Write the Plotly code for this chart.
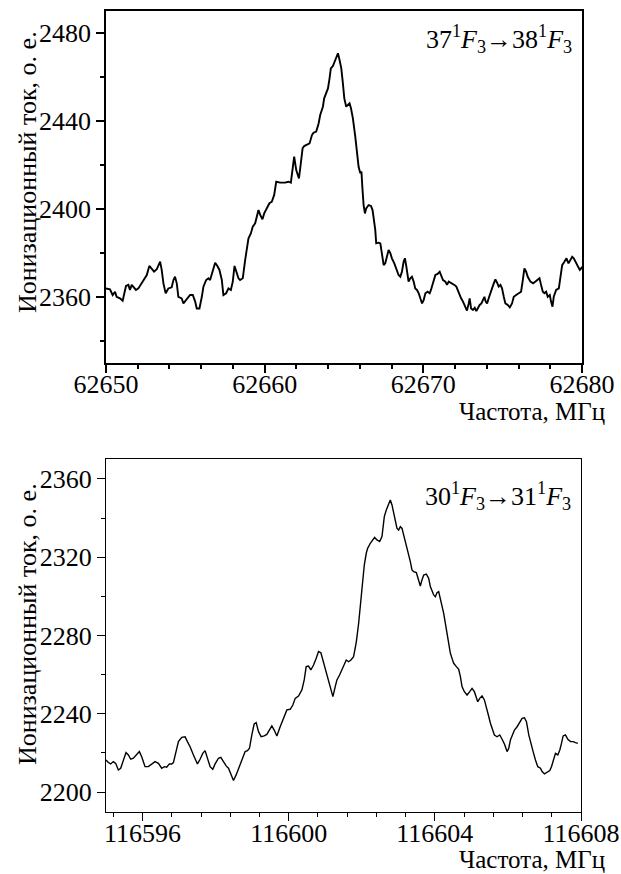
import plotly.graph_objects as go

# ---------- top panel data (37 1F3 -> 38 1F3) ----------
top_freq_offset = [
    0.00, 0.25, 0.42, 0.57, 0.67, 0.88, 1.05, 1.14, 1.26, 1.41, 1.51, 1.62, 1.72, 1.89, 2.04,
    2.25, 2.46, 2.57, 2.73, 2.88, 3.03, 3.20, 3.30, 3.41, 3.51, 3.62, 3.76, 3.93, 4.14, 4.25,
    4.35, 4.46, 4.56, 4.77, 4.88, 5.13, 5.30, 5.47, 5.62, 5.72, 5.89, 6.04, 6.14, 6.31, 6.46,
    6.56, 6.73, 6.88, 7.02, 7.15, 7.30, 7.40, 7.57, 7.72, 7.87, 7.99, 8.10, 8.24, 8.35, 8.45,
    8.62, 8.77, 8.87, 8.98, 9.13, 9.25, 9.40, 9.51, 9.61, 9.72, 9.86, 9.97, 10.14, 10.30, 10.45,
    10.60, 10.73, 10.98, 11.29, 11.50, 11.65, 11.78, 11.86, 11.99, 12.16, 12.24, 12.39, 12.49,
    12.66, 12.83, 12.98, 13.08, 13.25, 13.40, 13.50, 13.67, 13.75, 13.88, 13.99, 14.09, 14.17,
    14.30, 14.45, 14.55, 14.62, 14.72, 14.83, 14.93, 15.02, 15.14, 15.23, 15.35, 15.44, 15.56,
    15.71, 15.82, 15.92, 16.03, 16.10, 16.16, 16.235, 16.32, 16.40, 16.55, 16.70, 16.80, 16.87,
    16.97, 17.03, 17.18, 17.29, 17.39, 17.50, 17.60, 17.71, 17.81, 17.92, 18.02, 18.17, 18.30,
    18.44, 18.55, 18.65, 18.76, 18.84, 18.93, 19.01, 19.07, 19.18, 19.28, 19.39, 19.49, 19.60,
    19.71, 19.81, 19.92, 20.02, 20.13, 20.27, 20.40, 20.48, 20.61, 20.76, 20.90, 21.03, 21.11,
    21.24, 21.39, 21.49, 21.60, 21.81, 21.96, 22.08, 22.23, 22.38, 22.50, 22.65, 22.75, 22.86,
    22.92, 23.01, 23.13, 23.24, 23.34, 23.43, 23.55, 23.66, 23.76, 23.85, 23.93, 24.02, 24.12,
    24.23, 24.33, 24.44, 24.54, 24.65, 24.75, 24.86, 24.96, 25.07, 25.17, 25.32, 25.45, 25.59,
    25.70, 25.85, 26.01, 26.16, 26.27, 26.37, 26.48, 26.58, 26.75, 26.92, 27.07, 27.21, 27.32,
    27.42, 27.53, 27.63, 27.74, 27.84, 27.97, 28.05, 28.14, 28.22, 28.37, 28.54, 28.64, 28.75,
    28.90, 29.02, 29.15, 29.27, 29.38, 29.48, 29.63, 29.74, 29.86, 29.95, 30.00,
]
top_signal = [
    2363.9, 2363.5, 2360.9, 2362.4, 2360.1, 2359.4, 2358.3, 2361.7, 2365.0, 2365.5, 2363.2,
    2365.5, 2364.7, 2363.2, 2363.9, 2366.2, 2368.5, 2370.0, 2374.1, 2373.0, 2371.5, 2372.6,
    2374.5, 2376.1, 2372.3, 2366.2, 2361.7, 2363.9, 2364.4, 2367.7, 2369.2, 2366.2, 2360.1,
    2359.4, 2357.1, 2359.4, 2360.9, 2360.9, 2357.9, 2354.8, 2354.8, 2360.1, 2364.7, 2367.7,
    2368.5, 2367.7, 2372.3, 2375.6, 2374.1, 2372.3, 2367.7, 2360.9, 2361.7, 2363.9, 2363.2,
    2367.0, 2374.1, 2370.8, 2368.5, 2367.7, 2368.5, 2376.8, 2381.4, 2386.7, 2388.9, 2392.0,
    2393.5, 2396.5, 2399.5, 2397.3, 2395.3, 2398.0, 2400.3, 2402.6, 2403.3, 2406.4, 2412.4,
    2412.0, 2412.0, 2412.4, 2412.0, 2418.5, 2423.8, 2417.7, 2413.9, 2418.5, 2427.6, 2428.6,
    2429.1, 2429.8, 2433.6, 2434.7, 2435.2, 2438.9, 2442.7, 2446.5, 2450.3, 2452.6, 2454.8,
    2459.4, 2463.9, 2465.0, 2467.7, 2469.5, 2470.8, 2467.7, 2463.9, 2457.1, 2450.3, 2446.5,
    2447.3, 2448.0, 2445.8, 2441.2, 2432.9, 2423.8, 2419.2, 2416.2, 2417.0, 2409.5, 2401.8,
    2398.0, 2400.3, 2401.8, 2401.4, 2399.5, 2396.5, 2390.5, 2384.4, 2384.7, 2384.4, 2379.1,
    2374.5, 2375.3, 2378.3, 2381.4, 2379.9, 2377.6, 2375.3, 2373.0, 2370.0, 2369.2, 2371.5,
    2376.1, 2377.6, 2373.8, 2369.2, 2367.0, 2368.5, 2369.2, 2367.0, 2363.9, 2363.2, 2361.7,
    2359.4, 2357.1, 2358.6, 2361.7, 2362.4, 2361.7, 2363.2, 2366.2, 2370.0, 2370.5, 2371.5,
    2370.0, 2367.7, 2367.0, 2365.5, 2367.0, 2366.2, 2365.5, 2364.7, 2361.7, 2359.4, 2357.9,
    2355.6, 2353.8, 2357.1, 2359.4, 2354.8, 2354.1, 2355.1, 2353.6, 2354.8, 2356.4, 2357.1,
    2358.6, 2360.1, 2357.9, 2357.1, 2359.4, 2362.4, 2363.9, 2366.2, 2368.0, 2366.5, 2364.7,
    2365.5, 2363.9, 2360.1, 2357.1, 2356.4, 2355.3, 2357.1, 2360.1, 2360.9, 2361.7, 2362.4,
    2367.7, 2373.0, 2371.5, 2369.2, 2367.0, 2366.2, 2367.0, 2367.7, 2368.5, 2365.5, 2362.4,
    2361.7, 2362.4, 2360.1, 2360.9, 2357.9, 2355.6, 2360.1, 2363.2, 2363.9, 2368.5, 2374.5,
    2376.1, 2377.6, 2375.3, 2376.8, 2378.3, 2377.6, 2375.3, 2373.8, 2372.3, 2373.0, 2373.8,
]
top_base = 62650.0
top_freq = [top_base + v for v in top_freq_offset]

# ---------- bottom panel data (30 1F3 -> 31 1F3) ----------
bot_freq_offset = [
    0.000, 0.064, 0.128, 0.201, 0.265, 0.338, 0.402, 0.475, 0.548, 0.612, 0.676, 0.749, 0.822,
    0.913, 0.977, 1.068, 1.160, 1.251, 1.342, 1.434, 1.525, 1.598, 1.662, 1.735, 1.799, 1.845,
    1.918, 1.982, 2.073, 2.164, 2.228, 2.301, 2.393, 2.502, 2.575, 2.648, 2.712, 2.776, 2.849,
    2.922, 2.986, 3.078, 3.142, 3.215, 3.288, 3.352, 3.416, 3.489, 3.562, 3.653, 3.744, 3.808,
    3.872, 3.927, 3.991, 4.055, 4.110, 4.174, 4.247, 4.329, 4.402, 4.493, 4.539, 4.603, 4.676,
    4.767, 4.858, 4.950, 5.041, 5.114, 5.178, 5.269, 5.361, 5.425, 5.479, 5.543, 5.607, 5.680,
    5.753, 5.817, 5.881, 5.936, 6.000, 6.064, 6.137, 6.210, 6.274, 6.320, 6.393, 6.457, 6.521,
    6.575, 6.639, 6.703, 6.776, 6.849, 6.913, 6.977, 7.032, 7.069, 7.123, 7.160, 7.233, 7.297,
    7.352, 7.416, 7.489, 7.553, 7.580, 7.617, 7.671, 7.735, 7.781, 7.827, 7.872, 7.918, 7.964,
    8.009, 8.055, 8.101, 8.146, 8.192, 8.237, 8.283, 8.329, 8.374, 8.420, 8.493, 8.557, 8.603,
    8.648, 8.694, 8.767, 8.831, 8.877, 8.922, 8.968, 9.014, 9.059, 9.105, 9.151, 9.196, 9.242,
    9.288, 9.379, 9.425, 9.470, 9.516, 9.589, 9.653, 9.699, 9.744, 9.808, 9.881, 9.954, 10.018,
    10.082, 10.137, 10.174, 10.228, 10.292, 10.356, 10.411, 10.475, 10.521, 10.566, 10.630,
    10.703, 10.776, 10.840, 10.904, 10.977, 11.023, 11.069, 11.114, 11.178, 11.251, 11.324,
    11.388, 11.452, 11.507, 11.571, 11.635, 11.690, 11.753, 11.817, 11.890, 11.936, 12.000,
    12.073, 12.146, 12.192, 12.256, 12.301, 12.365, 12.420, 12.466, 12.511, 12.575, 12.639,
    12.712, 12.785, 12.849, 12.913,
]
bot_signal = [
    2216.4, 2215.1, 2214.4, 2215.6, 2214.7, 2211.3, 2212.2, 2216.4, 2220.2, 2219.0, 2216.8,
    2217.3, 2219.0, 2220.7, 2218.1, 2213.0, 2213.0, 2214.4, 2215.6, 2214.7, 2212.2, 2213.0,
    2212.7, 2214.4, 2214.4, 2215.1, 2221.5, 2225.8, 2228.0, 2228.3, 2225.8, 2223.2, 2219.0,
    2214.4, 2216.8, 2219.8, 2221.2, 2216.8, 2213.0, 2211.7, 2214.4, 2217.3, 2217.8, 2215.6,
    2213.4, 2212.2, 2209.6, 2205.9, 2208.8, 2213.0, 2218.1, 2220.7, 2221.2, 2222.4, 2229.2,
    2234.8, 2235.5, 2230.9, 2228.3, 2228.7, 2229.5, 2232.6, 2233.8, 2231.7, 2228.7, 2233.4,
    2237.7, 2242.0, 2242.3, 2244.5, 2247.9, 2249.1, 2252.2, 2257.3, 2264.1, 2264.4, 2262.4,
    2264.9, 2268.4, 2271.8, 2271.2, 2267.5, 2263.2, 2259.8, 2254.7, 2248.8, 2253.9, 2257.3,
    2259.8, 2262.4, 2265.8, 2267.5, 2266.6, 2267.5, 2269.2, 2276.5, 2286.0, 2298.1, 2308.4,
    2316.0, 2322.0, 2324.5, 2327.1, 2328.8, 2330.1, 2328.8, 2328.0, 2330.5, 2333.9, 2340.7,
    2344.1, 2346.7, 2349.2, 2346.7, 2342.4, 2338.1, 2334.7, 2333.9, 2335.6, 2334.7, 2331.3,
    2328.8, 2325.4, 2322.0, 2317.7, 2313.5, 2312.6, 2312.1, 2308.4, 2305.3, 2308.4, 2310.9,
    2311.4, 2309.2, 2305.0, 2302.4, 2300.7, 2299.8, 2301.9, 2302.4, 2299.0, 2295.6, 2291.3,
    2286.2, 2275.2, 2270.9, 2268.3, 2265.8, 2264.1, 2262.7, 2259.0, 2253.9, 2251.3, 2249.6,
    2251.3, 2253.0, 2251.3, 2247.9, 2246.2, 2247.9, 2249.1, 2247.1, 2243.7, 2238.6, 2235.2,
    2232.6, 2229.2, 2228.3, 2229.2, 2227.0, 2224.6, 2220.7, 2222.4, 2226.6, 2229.2, 2231.7,
    2233.4, 2236.0, 2237.7, 2238.0, 2236.0, 2229.2, 2224.1, 2220.7, 2216.4, 2213.0, 2212.2,
    2210.5, 2209.3, 2210.0, 2211.0, 2213.0, 2217.3, 2219.8, 2219.0, 2221.5, 2224.9, 2228.7,
    2229.2, 2227.0, 2225.8, 2225.8, 2225.3, 2224.9,
]
bot_base = 116595.0
bot_freq = [bot_base + v for v in bot_freq_offset]

x_title = "Частота, МГц"
y_title = "Ионизационный ток, о. е."
top_label = "37<sup>1</sup><i>F</i><sub>3</sub>→38<sup>1</sup><i>F</i><sub>3</sub>"
bot_label = "30<sup>1</sup><i>F</i><sub>3</sub>→31<sup>1</sup><i>F</i><sub>3</sub>"

W, H = 621, 874
FONT = "Liberation Serif"

fig = go.Figure()
fig.add_trace(go.Scatter(x=top_freq, y=top_signal, mode="lines",
                         line=dict(color="black", width=1.9), xaxis="x", yaxis="y",
                         showlegend=False, hoverinfo="skip"))
fig.add_trace(go.Scatter(x=bot_freq, y=bot_signal, mode="lines",
                         line=dict(color="black", width=1.4), xaxis="x2", yaxis="y2",
                         showlegend=False, hoverinfo="skip"))

def px_x(p):
    return p / W

def px_y(p):
    return 1 - p / H

tickfont = dict(family=FONT, size=26, color="black")

def axis(domain, anchor, rng, tick0, dtick, mdtick, lw, standoff):
    return dict(domain=domain, anchor=anchor, range=rng, tick0=tick0, dtick=dtick,
                tickmode="linear", automargin=False, ticklabelstandoff=standoff,
                showline=True, mirror=True, linecolor="black", linewidth=lw,
                ticks="outside", ticklen=8, tickwidth=lw, tickcolor="black",
                minor=dict(ticks="outside", ticklen=4, tickwidth=lw, tickcolor="black",
                           tick0=tick0, dtick=mdtick, showgrid=False),
                showgrid=False, zeroline=False, tickfont=tickfont, tickformat="d")

fig.update_layout(
    template="none",
    font=dict(family=FONT, color="black"),
    width=W, height=H, margin=dict(l=0, r=0, t=0, b=0, pad=0),
    paper_bgcolor="white", plot_bgcolor="white",
    xaxis=axis([px_x(106), px_x(582)], "y", [62650, 62680], 62650, 10, 2, 1.8, -11),
    yaxis=axis([px_y(363), px_y(11)], "x", [2330, 2490], 2360, 40, 20, 1.8, 0),
    xaxis2=axis([px_x(106), px_x(581)], "y2", [116595, 116608], 116596, 4, 0.8, 1.3, -10),
    yaxis2=axis([px_y(811.7), px_y(459.3)], "x2", [2190, 2370], 2200, 40, 20, 1.3, 0),
    annotations=[
        dict(text=y_title, textangle=-90, x=px_x(27), y=px_y(172), xref="paper", yref="paper",
             xanchor="center", yanchor="middle",
             showarrow=False, font=dict(family=FONT, size=26, color="black")),
        dict(text=y_title, textangle=-90, x=px_x(27), y=px_y(624), xref="paper", yref="paper",
             xanchor="center", yanchor="middle",
             showarrow=False, font=dict(family=FONT, size=26, color="black")),
        dict(text=x_title, x=px_x(607), y=px_y(411), xref="paper", yref="paper",
             xanchor="right", yanchor="middle", showarrow=False,
             font=dict(family=FONT, size=25, color="black")),
        dict(text=x_title, x=px_x(607), y=px_y(859), xref="paper", yref="paper",
             xanchor="right", yanchor="middle", showarrow=False,
             font=dict(family=FONT, size=25, color="black")),
        dict(text=top_label, x=px_x(574), y=px_y(39), xref="paper", yref="paper",
             xanchor="right", yanchor="middle", showarrow=False,
             font=dict(family=FONT, size=26, color="black")),
        dict(text=bot_label, x=px_x(573), y=px_y(496), xref="paper", yref="paper",
             xanchor="right", yanchor="middle", showarrow=False,
             font=dict(family=FONT, size=26, color="black")),
    ],
)

fig.write_html("out.html", config={"displayModeBar": False},
               post_script="document.body.style.margin='0';document.body.style.overflow='hidden';")
